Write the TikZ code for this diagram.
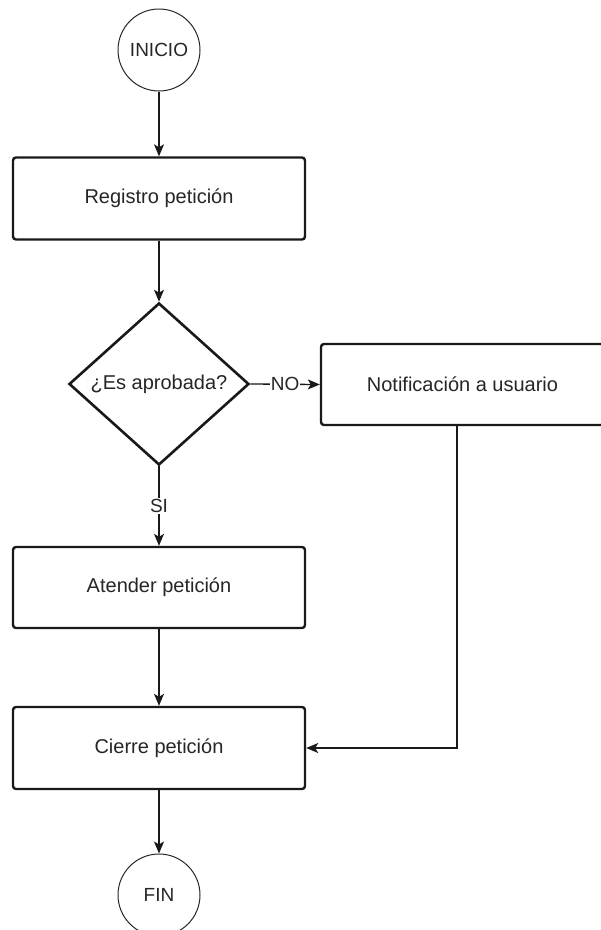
\documentclass[tikz,border=0pt]{standalone}
\usepackage{fontspec}
\setmainfont{Liberation Sans}
\usetikzlibrary{shapes.geometric,arrows.meta}
\begin{document}
\begin{tikzpicture}[x=1pt,y=-1pt,
  box/.style={draw=black!90, line width=2.4pt, rounded corners=3pt, minimum width=292pt, minimum height=82pt, inner sep=0pt, font=\fontsize{20}{24}\selectfont, text=black!85},
  term/.style={draw=black!85, circle, line width=1pt, minimum size=82pt, inner sep=0pt, font=\fontsize{19}{23}\selectfont, text=black!85},
  dec/.style={draw=black!90, diamond, line width=2.6pt, minimum width=180pt, minimum height=162pt, inner sep=0pt, font=\fontsize{20}{24}\selectfont, text=black!85},
  arr/.style={-{Stealth[length=12pt,width=10pt,inset=3pt]}, line width=1.3pt, draw=black!90},
  lbl/.style={fill=white, inner sep=1pt, font=\fontsize{19}{23}\selectfont, text=black!85}]
\useasboundingbox[fill=white] (0,0) rectangle (601,930);
\begin{scope}
\clip (0,0) rectangle (601,930);
\node[term] (inicio) at (159,50) {INICIO};
\node[box] (reg) at (159,198.5) {Registro petición};
\node[dec] (dec) at (159,384) {¿Es aprobada?};
\node[box, minimum width=283pt, minimum height=81pt] (notif) at (462.5,384.5) {Notificación a usuario};
\node[box, minimum height=81pt] (aten) at (159,587.5) {Atender petición};
\node[box] (cierre) at (159,748) {Cierre petición};
\node[term] (fin) at (159,895) {FIN};
\draw[arr] (inicio) -- (reg);
\draw[arr] (reg) -- (dec);
\draw[arr] (dec.east) -- node[lbl] (no) {NO} (notif.west);
\draw[arr] (dec.south) -- node[lbl] (si) {SI} (aten.north);
\draw[arr] (aten) -- (cierre);
\draw[arr] ([xshift=-5.5pt]notif.south) |- (cierre.east);
\draw[arr] (cierre) -- (fin);
\end{scope}
\end{tikzpicture}
\end{document}
